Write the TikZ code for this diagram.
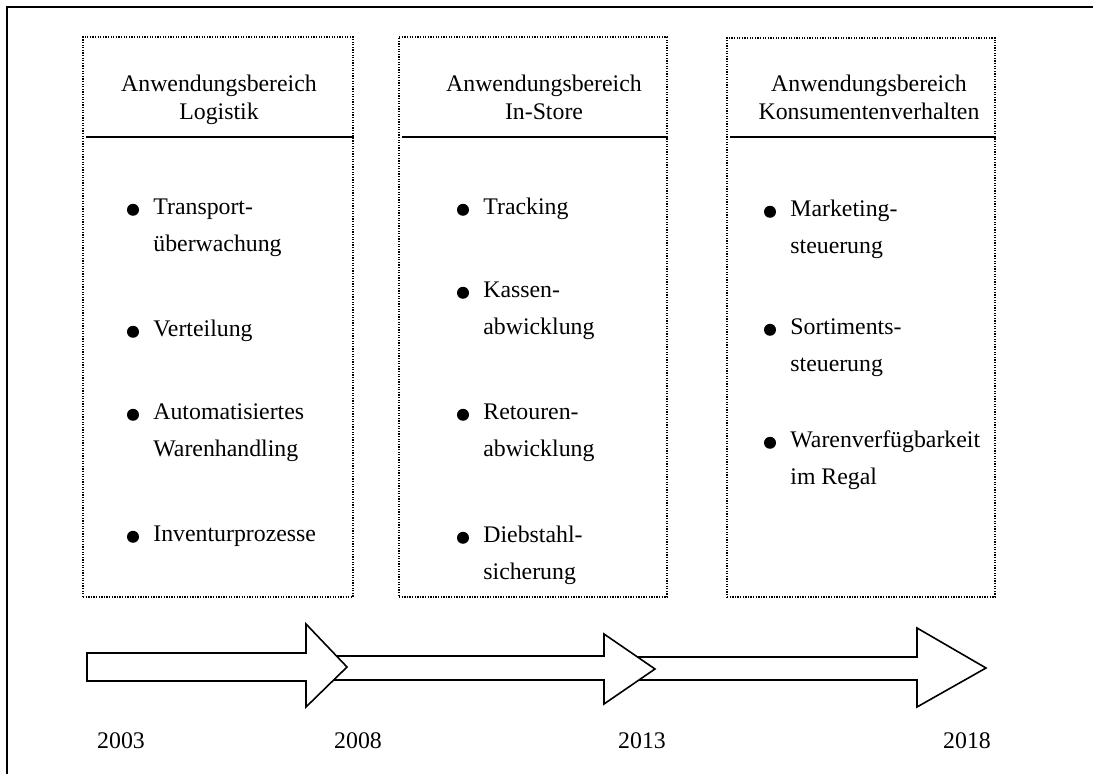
\documentclass[tikz,border=0pt]{standalone}
\usepackage{fontspec}
\setmainfont{Liberation Serif}
\usetikzlibrary{positioning,fit,calc}

% lines of one entry, first baseline = node baseline
\newcommand{\stack}[2][l]{\begin{tabular}[t]{@{}#1@{}}#2\end{tabular}}

\begin{document}
\begin{tikzpicture}[
  x=0.5pt, y=-0.5pt,
  font=\fontsize{11.9}{18.5}\selectfont,
  panel/.style={draw, line width=0.65pt, dash pattern=on 0.65pt off 0.65pt, inner sep=0pt},
  headrule/.style={line width=1pt},
  head/.style={anchor=base, inner sep=0pt, font=\fontsize{11.9}{14}\selectfont},
  entry/.style={anchor=base west, inner sep=0pt},
  dot/.style={circle, fill, inner sep=0pt, minimum size=6pt},
  tl/.style={draw, fill=white, line width=0.8pt, line join=miter},
  year/.style={anchor=base, inner sep=0pt},
]
\useasboundingbox (0,0) rectangle (1093,774);

% frame
\draw[line width=1pt] (7,774) -- (7,7) -- (1093,7);

% --- panels ---------------------------------------------------------------
\node[panel, fit={(83,37) (353,597)}] (p1) {};
\node[panel, fit={(399,37) (667,597)}] (p2) {};
\node[panel, fit={(727,38) (995,597)}] (p3) {};

\coordinate (hr) at (0,137);
\foreach \p in {p1,p2,p3}{ \draw[headrule] ($(\p.west |- hr)+(4,0)$) -- (\p.east |- hr); }

\node[head] (h1) at (219,92) {\stack[c]{Anwendungsbereich\\Logistik}};
\node[head] (h2) at (544,92) {\stack[c]{Anwendungsbereich\\In-Store}};
\node[head] (h3) at (869,92) {\stack[c]{Anwendungsbereich\\Konsumentenverhalten}};

% --- entries ----------------------------------------------------------------
\node[entry] (l1) at (153,215) {\stack{Transport-\\überwachung}};
\node[entry] (l2) at (153,337) {Verteilung};
\node[entry] (l3) at (153,420) {\stack{Automatisiertes\\Warenhandling}};
\node[entry] (l4) at (153,542) {Inventurprozesse};

\node[entry] (s1) at (483,215) {Tracking};
\node[entry] (s2) at (483,298) {\stack{Kassen-\\abwicklung}};
\node[entry] (s3) at (483,420) {\stack{Retouren-\\abwicklung}};
\node[entry] (s4) at (483,543) {\stack{Diebstahl-\\sicherung}};

\node[entry] (k1) at (790,217) {\stack{Marketing-\\steuerung}};
\node[entry] (k2) at (790,335) {\stack{Sortiments-\\steuerung}};
\node[entry] (k3) at (790,448) {\stack{Warenverfügbarkeit\\im Regal}};

\foreach \n in {l1,l2,l3,l4,s1,s2,s3,s4,k1,k2,k3}{
  \node[dot] (d-\n) at ([shift={(-10pt,2.6pt)}]\n.base west) {};
}

% --- timeline ---------------------------------------------------------------
\draw[tl] (620,657) -- (917,657) -- (917,628) -- (986,668) -- (917,707) -- (917,680) -- (620,680) -- cycle;
\draw[tl] (320,656) -- (604,656) -- (604,634) -- (655,669) -- (604,704) -- (604,680) -- (320,680) -- cycle;
\draw[tl] (87,653) -- (306,653) -- (306,624) -- (347,667) -- (306,707) -- (306,681) -- (87,681) -- cycle;

\node[year] (y1) at (121,748) {2003};
\node[year] (y2) at (358,748) {2008};
\node[year] (y3) at (642,748) {2013};
\node[year] (y4) at (967,748) {2018};

\end{tikzpicture}
\end{document}
